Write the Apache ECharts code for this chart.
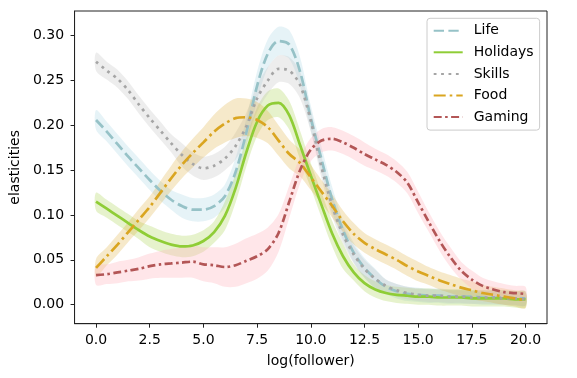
<!DOCTYPE html>
<html>
<head>
<meta charset="utf-8">
<script src="https://cdn.jsdelivr.net/npm/echarts@6/dist/echarts.min.js"></script>
<style>html,body{margin:0;padding:0;background:#fff}#c{width:577px;height:378px}</style>
</head>
<body>
<div id="c"></div>
<script>
// x positions: log(follower), 0..20 step 0.5
var xs = [0,0.5,1,1.5,2,2.5,3,3.5,4,4.5,5,5.5,6,6.5,7,7.5,8,8.5,9,9.5,10,10.5,11,11.5,12,12.5,13,13.5,14,14.5,15,15.5,16,16.5,17,17.5,18,18.5,19,19.5,20];
var xTicks = [0,2.5,5,7.5,10,12.5,15,17.5,20];
var yTicks = [0,0.05,0.1,0.15,0.2,0.25,0.3];

var life = [.206,.193,.179,.165,.152,.139,.127,.117,.110,.106,.106,.110,.121,.148,.192,.244,.280,.294,.290,.260,.208,.162,.117,.083,.058,.041,.029,.020,.015,.012,.011,.010,.010,.009,.009,.009,.008,.008,.008,.007,.007];
var lifeCi = [.011,.011,.011,.011,.011,.011,.011,.011,.013,.013,.013,.013,.013,.016,.016,.016,.016,.016,.016,.016,.014,.014,.014,.011,.011,.011,.011,.008,.008,.008,.008,.008,.008,.008,.008,.008,.008,.008,.008,.008,.008];

var holidays = [.115,.107,.099,.091,.083,.076,.071,.067,.065,.066,.071,.081,.099,.130,.170,.204,.222,.225,.211,.178,.144,.111,.079,.054,.036,.024,.017,.013,.011,.010,.009,.009,.008,.008,.008,.007,.007,.007,.007,.006,.006];
var holidaysCi = [.010,.010,.010,.010,.010,.012,.012,.012,.012,.012,.012,.012,.016,.016,.016,.016,.016,.016,.016,.016,.014,.014,.014,.014,.009,.009,.009,.009,.009,.009,.009,.009,.009,.009,.009,.009,.009,.009,.009,.009,.009];

var skills = [.271,.261,.252,.239,.223,.208,.194,.180,.167,.157,.152,.155,.163,.177,.199,.230,.250,.263,.261,.245,.205,.153,.110,.078,.056,.040,.029,.021,.016,.013,.011,.010,.010,.009,.009,.008,.008,.008,.007,.007,.006];
var skillsCi = [.010,.010,.010,.010,.010,.010,.010,.010,.013,.013,.013,.013,.013,.015,.015,.015,.015,.015,.015,.015,.012,.012,.012,.010,.010,.010,.010,.007,.007,.007,.007,.007,.007,.007,.007,.007,.007,.007,.007,.007,.007];

var food = [.041,.054,.067,.081,.095,.109,.125,.141,.156,.169,.181,.193,.202,.208,.209,.206,.198,.183,.168,.158,.142,.126,.110,.093,.079,.069,.062,.056,.050,.043,.037,.032,.027,.023,.019,.016,.013,.011,.009,.007,.005];
var foodCi = [.010,.010,.011,.011,.012,.012,.013,.014,.015,.016,.017,.019,.021,.022,.021,.020,.018,.017,.016,.015,.014,.013,.013,.012,.012,.011,.011,.011,.011,.011,.011,.010,.010,.010,.010,.010,.009,.009,.009,.009,.009];

var gaming = [.033,.034,.036,.038,.040,.043,.045,.046,.047,.048,.045,.044,.042,.044,.049,.054,.062,.080,.115,.150,.173,.183,.185,.181,.175,.168,.162,.156,.148,.136,.114,.092,.071,.053,.038,.028,.021,.017,.014,.013,.012];
var gamingCi = [.011,.011,.012,.012,.013,.014,.015,.016,.017,.018,.019,.020,.022,.024,.025,.025,.024,.021,.018,.015,.013,.013,.013,.013,.013,.013,.012,.012,.012,.012,.012,.011,.011,.011,.010,.010,.009,.009,.009,.008,.008];

var names = ['Life','Holidays','Skills','Food','Gaming'];

var defs = [
  {name:'Life', m:life, ci:lifeCi, color:'#96c2c7', band:'#add8e6', bandOp:0.3, dash:[10.3,4.4]},
  {name:'Holidays', m:holidays, ci:holidaysCi, color:'#8fcd36', band:'#9acd32', bandOp:0.25, dash:'solid'},
  {name:'Skills', m:skills, ci:skillsCi, color:'#a5a5a5', band:'#c4c4c4', bandOp:0.3, dash:[2.8,4.6]},
  {name:'Food', m:food, ci:foodCi, color:'#daa520', band:'#daa520', bandOp:0.24, dash:[12,4,2.6,4]},
  {name:'Gaming', m:gaming, ci:gamingCi, color:'#b35656', band:'#ffb6c1', bandOp:0.35, dash:[8,3.4,2.6,3.4]}
];

var series = [];
defs.forEach(function(d, k){
  series.push({type:'custom', name:d.name+'_band', data:[[0,0]], silent:true, clip:true, z:1,
    renderItem:function(params, api){
      var up = [], lo = [];
      for (var i=0;i<xs.length;i++){
        up.push(api.coord([xs[i], d.m[i]+d.ci[i]]));
        lo.push(api.coord([xs[i], d.m[i]-d.ci[i]]));
      }
      lo.reverse();
      var pts = up.concat(lo);
      return {type:'polygon', shape:{points:pts, smooth:0.3},
        style:{fill:d.band, opacity:d.bandOp}};
    }
  });
});
defs.forEach(function(d, k){
  series.push({type:'line', name:d.name, data:xs.map(function(x,i){return [x,d.m[i]];}), symbol:'none', smooth:0.3,
    lineStyle:{color:d.color, width:2.7, type:d.dash, cap:'butt'}, itemStyle:{color:d.color}, z:3+k});
});

var font = 'DejaVu Sans';
var chart = echarts.init(document.getElementById('c'), null, {renderer:'canvas'});
chart.setOption({
  animation:false,
  backgroundColor:'#fff',
  grid:{left:66.7, right:30, top:11, bottom:54.3, show:true, borderColor:'#222', borderWidth:1, backgroundColor:'transparent'},
  legend:{
    data:names, orient:'vertical', left:427, top:18.3,
    itemWidth:29, itemHeight:14, itemGap:7.6,
    padding:[5.4,6,6,5.7],
    itemStyle:{opacity:0},
    backgroundColor:'rgba(255,255,255,0.8)', borderColor:'#cccccc', borderWidth:1, borderRadius:3,
    textStyle:{fontFamily:font, fontSize:14, color:'#000', lineHeight:14, padding:[0,0,0,6]}
  },
  xAxis:{type:'value', min:-1, max:21,
    name:'log(follower)', nameLocation:'middle', nameGap:30.5,
    nameTextStyle:{fontFamily:font, fontSize:14, color:'#000'},
    axisLine:{show:true, onZero:false, lineStyle:{color:'#222', width:1}},
    axisTick:{show:true, inside:false, length:4, customValues:xTicks, lineStyle:{color:'#222'}},
    axisLabel:{show:true, customValues:xTicks, margin:10, fontFamily:font, fontSize:14, color:'#000',
      formatter:function(v){return Number(v).toFixed(1);}},
    splitLine:{show:false}
  },
  yAxis:{type:'value', min:-0.0212, max:0.3275,
    name:'elasticities', nameLocation:'middle', nameGap:49, nameRotate:90,
    nameTextStyle:{fontFamily:font, fontSize:14, color:'#000'},
    axisLine:{show:true, onZero:false, lineStyle:{color:'#222', width:1}},
    axisTick:{show:true, inside:false, length:4, customValues:yTicks, lineStyle:{color:'#222'}},
    axisLabel:{show:true, customValues:yTicks, margin:10.5, fontFamily:font, fontSize:14, color:'#000',
      formatter:function(v){return Number(v).toFixed(2);}},
    splitLine:{show:false}
  },
  series:series
});
</script>
</body>
</html>
